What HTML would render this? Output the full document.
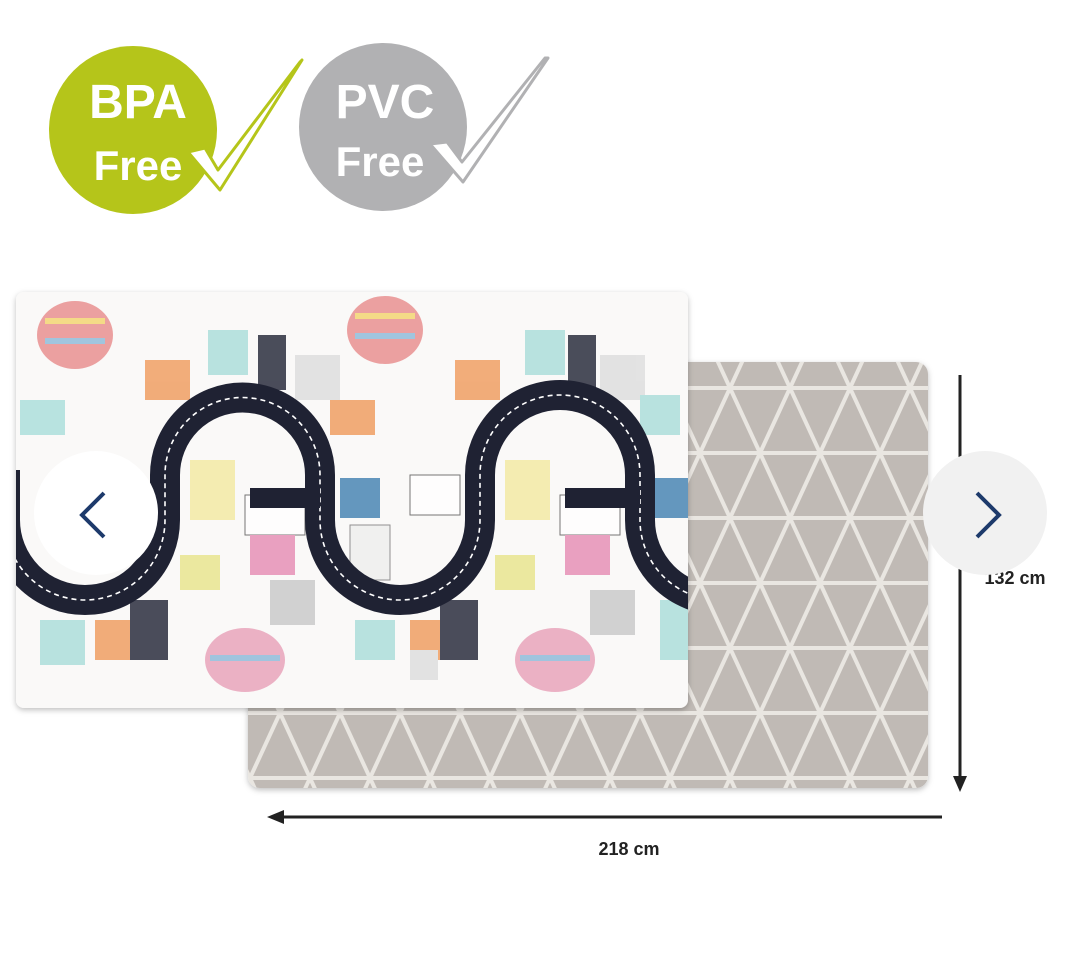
<!DOCTYPE html>
<html><head><meta charset="utf-8"><style>
html,body{margin:0;padding:0;background:#fff;width:1080px;height:953px;overflow:hidden}
svg{display:block}
</style></head><body>
<svg width="1080" height="953" viewBox="0 0 1080 953" xmlns="http://www.w3.org/2000/svg">
<defs>
<pattern id="tri" x="250" y="388" width="60" height="130" patternUnits="userSpaceOnUse">
<rect width="60" height="130" fill="#c0bab5"/>
<g stroke="#e9e6e1" stroke-width="4" fill="none">
<line x1="0" y1="0" x2="60" y2="0"/><line x1="0" y1="65" x2="60" y2="65"/><line x1="0" y1="130" x2="60" y2="130"/>
<line x1="0" y1="0" x2="30" y2="65"/><line x1="60" y1="0" x2="30" y2="65"/>
<line x1="30" y1="65" x2="0" y2="130"/><line x1="30" y1="65" x2="60" y2="130"/>
<line x1="-30" y1="65" x2="0" y2="130"/><line x1="90" y1="65" x2="60" y2="130"/>
<line x1="0" y1="0" x2="-30" y2="65"/><line x1="60" y1="0" x2="90" y2="65"/>
</g></pattern>
<clipPath id="mc"><rect x="16" y="292" width="672" height="416" rx="8"/></clipPath>
<filter id="sh" x="-5%" y="-5%" width="110%" height="110%"><feDropShadow dx="0" dy="2" stdDeviation="3" flood-color="#000" flood-opacity="0.25"/></filter>
</defs>

<!-- badges -->
<circle cx="133" cy="130" r="84" fill="#b5c51a"/>
<path d="M188 152 L205 148 L218 170 L300 62 L302 60 L220 190 Z" fill="#fff" stroke="#b5c51a" stroke-width="3" stroke-linejoin="round"/>
<text x="138" y="118" text-anchor="middle" font-family="Liberation Sans,sans-serif" font-weight="bold" font-size="48" fill="#fff">BPA</text>
<text x="138" y="180" text-anchor="middle" font-family="Liberation Sans,sans-serif" font-weight="bold" font-size="42" fill="#fff">Free</text>
<circle cx="383" cy="127" r="84" fill="#b1b1b3"/>
<path d="M430 144 L447 142 L462 162 L545 58 L548 58 L463 182 Z" fill="#fff" stroke="#b1b1b3" stroke-width="3" stroke-linejoin="round"/>
<text x="385" y="118" text-anchor="middle" font-family="Liberation Sans,sans-serif" font-weight="bold" font-size="48" fill="#fff">PVC</text>
<text x="380" y="176" text-anchor="middle" font-family="Liberation Sans,sans-serif" font-weight="bold" font-size="42" fill="#fff">Free</text>

<!-- back mat -->
<rect x="248" y="362" width="680" height="426" rx="12" fill="url(#tri)" filter="url(#sh)"/>

<!-- front mat -->
<rect x="16" y="292" width="672" height="416" rx="8" fill="#faf9f8" filter="url(#sh)"/>
<g clip-path="url(#mc)">
<g opacity="0.8">
<ellipse cx="75" cy="335" rx="38" ry="34" fill="#e88a8a"/><rect x="45" y="318" width="60" height="6" fill="#f3d36b"/><rect x="45" y="338" width="60" height="6" fill="#8ab8d8"/>
<ellipse cx="385" cy="330" rx="38" ry="34" fill="#e88a8a"/><rect x="355" y="313" width="60" height="6" fill="#f3d36b"/><rect x="355" y="333" width="60" height="6" fill="#8ab8d8"/>
<ellipse cx="245" cy="660" rx="40" ry="32" fill="#e8a0b8"/><rect x="210" y="655" width="70" height="6" fill="#8ab8d8"/>
<ellipse cx="555" cy="660" rx="40" ry="32" fill="#e8a0b8"/><rect x="520" y="655" width="70" height="6" fill="#8ab8d8"/>
<rect x="208" y="330" width="40" height="45" fill="#a8ddd9"/><rect x="525" y="330" width="40" height="45" fill="#a8ddd9"/>
<rect x="258" y="335" width="28" height="55" fill="#1f2233"/><rect x="568" y="335" width="28" height="55" fill="#1f2233"/>
<rect x="145" y="360" width="45" height="40" fill="#f09a5a"/><rect x="455" y="360" width="45" height="40" fill="#f09a5a"/>
<rect x="295" y="355" width="45" height="45" fill="#ddd"/><rect x="600" y="355" width="45" height="45" fill="#ddd"/>
<rect x="20" y="400" width="45" height="35" fill="#a8ddd9"/><rect x="330" y="400" width="45" height="35" fill="#f09a5a"/>
<rect x="640" y="395" width="40" height="40" fill="#a8ddd9"/>
<rect x="190" y="460" width="45" height="60" fill="#f3e9a0"/><rect x="505" y="460" width="45" height="60" fill="#f3e9a0"/>
<rect x="245" y="495" width="60" height="40" fill="#fff" stroke="#555"/><rect x="560" y="495" width="60" height="40" fill="#fff" stroke="#555"/>
<rect x="340" y="478" width="40" height="40" fill="#3f7fb0"/><rect x="650" y="478" width="38" height="40" fill="#3f7fb0"/>
<rect x="410" y="475" width="50" height="40" fill="#fff" stroke="#555"/>
<rect x="250" y="535" width="45" height="40" fill="#e58bb3"/><rect x="565" y="535" width="45" height="40" fill="#e58bb3"/>
<rect x="180" y="555" width="40" height="35" fill="#e8e58a"/><rect x="495" y="555" width="40" height="35" fill="#e8e58a"/>
<rect x="350" y="525" width="40" height="55" fill="#eee" stroke="#777"/><rect x="270" y="580" width="45" height="45" fill="#c8c8c8"/>
<rect x="590" y="590" width="45" height="45" fill="#c8c8c8"/><rect x="355" y="620" width="40" height="40" fill="#a8ddd9"/>
<rect x="40" y="620" width="45" height="45" fill="#a8ddd9"/><rect x="95" y="620" width="35" height="40" fill="#f09a5a"/>
<rect x="410" y="620" width="35" height="40" fill="#f09a5a"/><rect x="660" y="600" width="30" height="60" fill="#a8ddd9"/>
<rect x="130" y="600" width="38" height="60" fill="#1f2233"/><rect x="440" y="600" width="38" height="60" fill="#1f2233"/>
<rect x="410" y="650" width="28" height="30" fill="#ddd"/>
</g>
<path d="M5 470 L5 520 A80 80 0 0 0 165 520 L165 475 A77.5 77.5 0 0 1 320 475 L320 520 A80 80 0 0 0 480 520 L480 475 A80 80 0 0 1 640 475 L640 520 A80 80 0 0 0 800 520" fill="none" stroke="#1f2233" stroke-width="30"/>
<path d="M5 470 L5 520 A80 80 0 0 0 165 520 L165 475 A77.5 77.5 0 0 1 320 475 L320 520 A80 80 0 0 0 480 520 L480 475 A80 80 0 0 1 640 475 L640 520 A80 80 0 0 0 800 520" fill="none" stroke="#fff" stroke-width="1.6" stroke-dasharray="5 4"/>
<rect x="250" y="488" width="70" height="20" fill="#1f2233"/><rect x="565" y="488" width="75" height="20" fill="#1f2233"/>
</g>

<!-- arrows -->
<line x1="960" y1="375" x2="960" y2="778" stroke="#222" stroke-width="3"/>
<path d="M953 776 L960 792 L967 776 Z" fill="#222"/>
<line x1="942" y1="817" x2="282" y2="817" stroke="#222" stroke-width="3"/>
<path d="M284 810 L267 817 L284 824 Z" fill="#222"/>
<text x="629" y="855" text-anchor="middle" font-family="Liberation Sans,sans-serif" font-weight="bold" font-size="18" fill="#222">218 cm</text>
<text x="1015" y="584" text-anchor="middle" font-family="Liberation Sans,sans-serif" font-weight="bold" font-size="18" fill="#222">132 cm</text>

<!-- nav buttons -->
<circle cx="96" cy="513" r="62" fill="#fff"/>
<path d="M104 493 L82 515 L104 537" fill="none" stroke="#1d3a6b" stroke-width="4"/>
<circle cx="985" cy="513" r="62" fill="#f1f1f1"/>
<path d="M977 493 L999 515 L977 537" fill="none" stroke="#1d3a6b" stroke-width="4"/>
</svg>
</body></html>
